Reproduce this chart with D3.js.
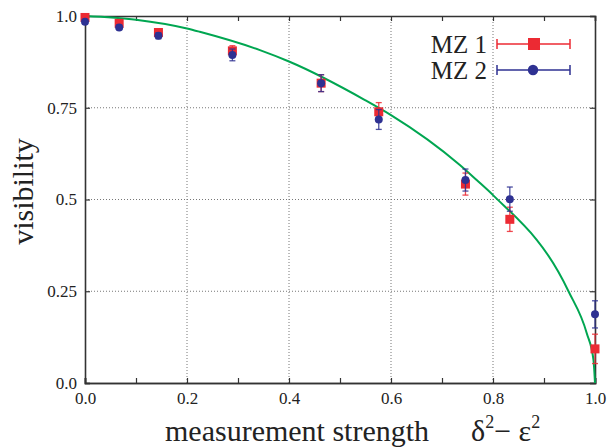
<!DOCTYPE html>
<html>
<head>
<meta charset="utf-8">
<script src="https://d3js.org/d3.v7.min.js"></script>
<style>
  body { margin: 0; background: #fff; }
  svg text { font-family: "Liberation Serif", "DejaVu Serif", serif; fill: #222; }
</style>
</head>
<body>
<div id="chart"></div>
<script>
// measured points (x = delta^2 - eps^2, visibility, error)
const xs     = [0.0, 0.067, 0.144, 0.289, 0.463, 0.576, 0.746, 0.833, 1.0];
const mz1    = [0.996, 0.980, 0.955, 0.905, 0.817, 0.739, 0.542, 0.446, 0.093];
const mz1Err = [0.005, 0.006, 0.008, 0.014, 0.023, 0.025, 0.030, 0.033, 0.040];
const mz2    = [0.984, 0.969, 0.946, 0.894, 0.817, 0.718, 0.553, 0.501, 0.187];
const mz2Err = [0.005, 0.006, 0.008, 0.016, 0.023, 0.027, 0.030, 0.033, 0.037];

// theory curve
const curveX = [0.0, 0.1, 0.2, 0.225, 0.343, 0.4, 0.549, 0.6, 0.735, 0.768, 0.8, 0.948, 0.984, 0.997, 1.0];
const curveV = [1.0, 0.99, 0.966, 0.957, 0.907, 0.876, 0.771, 0.730, 0.594, 0.553, 0.512, 0.25, 0.135, 0.063, 0.0];

const xMajor = [0, 0.2, 0.4, 0.6, 0.8, 1.0];
const xMinor = [0.1, 0.3, 0.5, 0.7, 0.9];
const yMajor = [0, 0.25, 0.5, 0.75, 1.0];
const yLabels = ["0.0", "0.25", "0.5", "0.75", "1.0"];

const width = 609, height = 448;
const m = { left: 85, right: 14, top: 16, bottom: 65 };

const svg = d3.select("#chart").append("svg")
  .attr("width", width).attr("height", height);

const x = d3.scaleLinear().domain([0, 1]).range([m.left, width - m.right]);
const y = d3.scaleLinear().domain([0, 1]).range([height - m.bottom, m.top]);

const red = "#ec2a33", blue = "#2e3192", green = "#00a651";

// grid
const grid = svg.append("g").attr("stroke", "#777").attr("stroke-dasharray", "1,2").attr("stroke-width", 1);
grid.selectAll(".gx").data(xMajor.slice(1, -1)).join("line")
  .attr("x1", d => x(d)).attr("x2", d => x(d)).attr("y1", y(0)).attr("y2", y(1));
grid.selectAll(".gy").data(yMajor.slice(1, -1)).join("line")
  .attr("x1", x(0)).attr("x2", x(1)).attr("y1", d => y(d)).attr("y2", d => y(d));

// axes (ticks pointing inward)
svg.append("g").attr("transform", `translate(0,${y(0)})`)
  .call(d3.axisBottom(x).tickValues(xMajor).tickFormat(d3.format(".1f")).tickSize(-5).tickPadding(8))
  .call(g => g.selectAll("text").attr("font-size", 17).attr("dy", "0.75em"));
svg.append("g").attr("transform", `translate(0,${y(0)})`)
  .call(d3.axisBottom(x).tickValues(xMinor).tickFormat("").tickSize(-5));
svg.append("g").attr("transform", `translate(0,${y(1)})`)
  .call(d3.axisTop(x).tickValues(xMajor.concat(xMinor)).tickFormat("").tickSize(-5));
svg.append("g").attr("transform", `translate(${x(0)},0)`)
  .call(d3.axisLeft(y).tickValues(yMajor).tickFormat((d, i) => yLabels[i]).tickSize(-5).tickPadding(8))
  .call(g => g.selectAll("text").attr("font-size", 17));
svg.append("g").attr("transform", `translate(${x(1)},0)`)
  .call(d3.axisRight(y).tickValues(yMajor).tickFormat("").tickSize(-5));
svg.selectAll(".domain").attr("stroke", "#333").attr("stroke-width", 1.6);
svg.selectAll(".tick line").attr("stroke", "#333").attr("stroke-width", 1.2);

// theory curve
svg.append("path")
  .datum(curveX.map((d, i) => [d, curveV[i]]))
  .attr("fill", "none").attr("stroke", green).attr("stroke-width", 2)
  .attr("d", d3.line().x(d => x(d[0])).y(d => y(d[1])).curve(d3.curveMonotoneX));

function errorBars(vals, errs, color) {
  const g = svg.append("g").attr("stroke", color).attr("stroke-width", 1.3).attr("stroke-opacity", 0.85);
  xs.forEach((xv, i) => {
    const cx = x(xv), top = y(vals[i] + errs[i]), bot = y(vals[i] - errs[i]);
    g.append("line").attr("x1", cx).attr("x2", cx).attr("y1", top).attr("y2", bot);
    g.append("line").attr("x1", cx - 3).attr("x2", cx + 3).attr("y1", top).attr("y2", top);
    g.append("line").attr("x1", cx - 3).attr("x2", cx + 3).attr("y1", bot).attr("y2", bot);
  });
}

errorBars(mz1, mz1Err, red);
svg.append("g").selectAll("rect").data(xs).join("rect")
  .attr("x", d => x(d) - 4.5).attr("y", (d, i) => y(mz1[i]) - 4.5)
  .attr("width", 9).attr("height", 9).attr("fill", red);

errorBars(mz2, mz2Err, blue);
svg.append("g").selectAll("circle").data(xs).join("circle")
  .attr("cx", d => x(d)).attr("cy", (d, i) => y(mz2[i])).attr("r", 4)
  .attr("fill", blue);

// legend
const leg = svg.append("g");
[["MZ 1", red, "sq", 44], ["MZ 2", blue, "ci", 70]].forEach(([name, col, shape, ly]) => {
  leg.append("text").attr("x", 487).attr("y", ly + 9).attr("text-anchor", "end")
    .attr("font-size", 25).text(name);
  leg.append("line").attr("x1", 497).attr("x2", 570).attr("y1", ly).attr("y2", ly)
    .attr("stroke", col).attr("stroke-width", 1.5);
  [497, 570].forEach(cx => leg.append("line").attr("x1", cx).attr("x2", cx)
    .attr("y1", ly - 5).attr("y2", ly + 5).attr("stroke", col).attr("stroke-width", 1.5));
  if (shape === "sq") leg.append("rect").attr("x", 534 - 6).attr("y", ly - 6)
    .attr("width", 12).attr("height", 12).attr("fill", col);
  else leg.append("circle").attr("cx", 533).attr("cy", ly).attr("r", 5.2).attr("fill", col);
});

// axis titles
svg.append("text")
  .attr("transform", `translate(33,${y(0.5) - 8}) rotate(-90)`)
  .attr("text-anchor", "middle").attr("font-size", 30).text("visibility");

const xt = svg.append("text").attr("y", 441).attr("font-size", 30);
xt.append("tspan").attr("x", 165).text("measurement strength");
xt.append("tspan").attr("x", 471).text("δ");
xt.append("tspan").attr("font-size", 18).attr("dy", -13).text("2");
xt.append("tspan").attr("dy", 13).text("− ε");
xt.append("tspan").attr("font-size", 18).attr("dy", -13).text("2");
</script>
</body>
</html>
